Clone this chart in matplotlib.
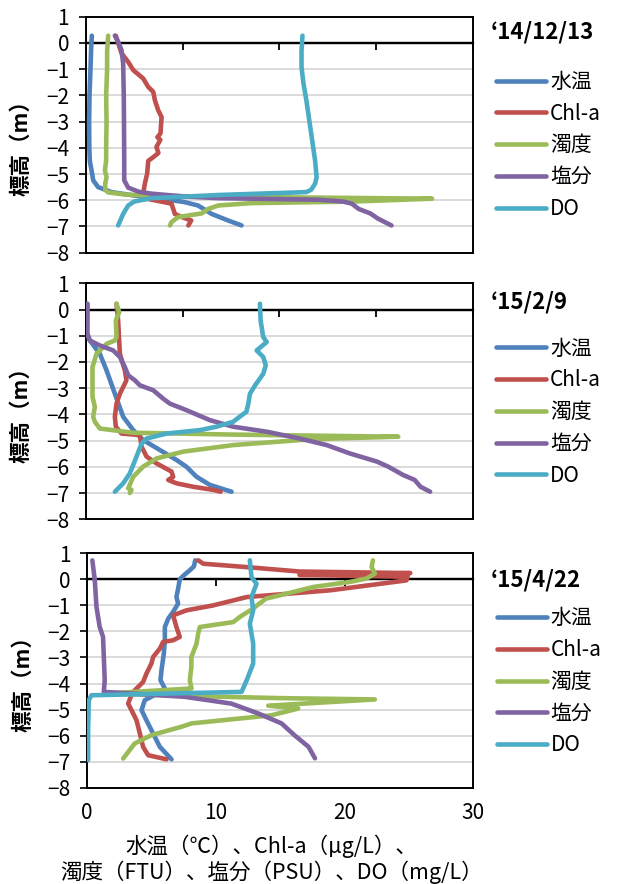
import matplotlib
matplotlib.use('Agg')
import matplotlib.pyplot as plt

plt.rcParams['font.family'] = ['Noto Sans CJK JP', 'DejaVu Sans']

names = ['水温', 'Chl-a', '濁度', '塩分', 'DO']
colors = ['#4F81BD', '#C0504D', '#9BBB59', '#8064A2', '#4BACC6']
dates = ['\u201814/12/13', '\u201815/2/9', '\u201815/4/22']
x_max = [40, 40, 30]
y_ticks = [-8, -7, -6, -5, -4, -3, -2, -1, 0, 1]

# --- '14/12/13 ---
a_temp_x = [0.62, 0.55, 0.48, 0.38, 0.34, 0.36, 0.41, 0.59, 0.76, 1.27, 2.66, 5.0, 8.0, 10.2, 11.6, 13.0, 14.7, 16.1]
a_temp_y = [0.27, -0.2, -1.0, -2.0, -3.0, -4.0, -4.5, -4.86, -5.24, -5.5, -5.69, -5.82, -5.95, -6.07, -6.2, -6.52, -6.77, -6.96]
a_chl_x = [3.1, 3.69, 4.38, 4.9, 5.93, 6.45, 6.97, 7.14, 7.48, 7.83, 7.72, 7.4, 7.7, 7.3, 7.5, 7.0, 6.45, 6.34, 6.1, 5.93, 6.28, 8.86, 9.2, 9.9, 10.9, 10.6]
a_chl_y = [0.27, -0.4, -0.73, -1.04, -1.36, -1.68, -1.87, -2.19, -2.57, -2.83, -3.45, -3.6, -3.7, -3.97, -4.2, -4.35, -4.5, -4.99, -5.37, -5.75, -5.94, -6.13, -6.52, -6.64, -6.77, -6.96]
a_tur_x = [2.31, 2.2, 2.2, 2.1, 2.14, 2.1, 2.1, 1.97, 2.14, 2.0, 2.0, 2.3, 4.0, 6.8, 15.0, 24.0, 35.8, 27.5, 17.1, 13.7, 12.65, 12.0, 9.55, 8.86, 8.7]
a_tur_y = [0.27, -0.3, -1.0, -2.0, -3.0, -4.0, -4.5, -4.86, -5.12, -5.37, -5.6, -5.7, -5.78, -5.83, -5.87, -5.9, -5.94, -6.05, -6.11, -6.2, -6.33, -6.5, -6.64, -6.83, -6.96]
a_sal_x = [3.0, 3.34, 3.69, 3.86, 3.93, 3.97, 3.97, 4.38, 5.5, 6.8, 10.0, 13.7, 24.0, 26.6, 27.5, 28.2, 29.4, 30.2, 31.6]
a_sal_y = [0.27, 0.04, -0.28, -0.79, -2.19, -4.5, -5.24, -5.52, -5.68, -5.75, -5.85, -5.92, -5.98, -6.05, -6.13, -6.33, -6.5, -6.7, -6.96]
a_do_x = [22.4, 22.3, 22.3, 22.5, 22.8, 23.3, 23.7, 23.86, 23.7, 23.3, 22.8, 13.7, 6.8, 5.0, 4.38, 3.86, 3.34]
a_do_y = [0.27, -0.3, -0.92, -1.55, -2.19, -3.46, -4.48, -5.12, -5.37, -5.6, -5.69, -5.8, -5.92, -6.05, -6.2, -6.52, -6.96]

# --- '15/2/9 ---
b_temp_x = [0.14, 0.14, 0.41, 1.45, 2.14, 3.0, 3.86, 4.9, 5.93, 7.66, 9.38, 10.41, 11.45, 12.83, 15.07]
b_temp_y = [0.22, -0.9, -1.18, -1.69, -2.32, -3.21, -4.09, -4.6, -4.98, -5.36, -5.74, -6.0, -6.38, -6.69, -6.95]
b_chl_x = [3.17, 3.34, 3.52, 4.03, 4.2, 3.52, 3.17, 3.0, 3.1, 3.69, 5.59, 5.76, 6.28, 7.31, 8.86, 9.03, 8.52, 9.38, 11.1, 13.17, 13.93]
b_chl_y = [0.22, -0.42, -1.69, -2.32, -2.7, -3.21, -3.59, -4.09, -4.47, -4.73, -4.79, -5.23, -5.61, -5.87, -6.18, -6.38, -6.5, -6.63, -6.76, -6.88, -6.95]
b_tur_x = [3.17, 3.45, 3.1, 3.17, 3.0, 2.14, 1.1, 0.69, 0.69, 0.93, 0.76, 0.93, 1.45, 4.9, 15.24, 25.6, 32.3, 25.6, 22.1, 15.24, 10.07, 7.31, 5.93, 4.9, 4.38, 4.72, 4.55]
b_tur_y = [0.22, -0.1, -0.42, -1.05, -1.18, -1.31, -1.69, -2.19, -3.33, -3.71, -4.09, -4.28, -4.54, -4.7, -4.77, -4.82, -4.85, -4.92, -4.98, -5.17, -5.42, -5.68, -5.99, -6.38, -6.82, -6.88, -7.0]
b_sal_x = [0.17, 0.14, 0.41, 1.45, 2.83, 3.52, 4.03, 4.38, 5.07, 5.59, 6.97, 8.0, 8.69, 10.41, 12.83, 15.24, 18.7, 22.1, 24.9, 27.3, 30.1, 31.3, 32.8, 34.0, 34.6, 35.6]
b_sal_y = [0.22, -0.93, -1.18, -1.37, -1.56, -1.81, -2.19, -2.51, -2.7, -2.89, -3.08, -3.4, -3.59, -3.84, -4.22, -4.47, -4.66, -4.92, -5.17, -5.49, -5.8, -6.0, -6.31, -6.5, -6.76, -6.95]
b_do_x = [18.0, 18.07, 18.34, 18.7, 17.66, 18.34, 18.6, 18.34, 17.5, 16.97, 16.8, 16.6, 15.9, 15.24, 13.5, 11.79, 8.34, 6.28, 5.76, 5.24, 4.55, 3.86, 3.0]
b_do_y = [0.22, -0.42, -1.05, -1.24, -1.56, -1.81, -2.13, -2.45, -2.89, -3.21, -3.59, -3.9, -4.09, -4.28, -4.47, -4.6, -4.73, -4.92, -5.11, -5.61, -6.25, -6.63, -6.95]

# --- '15/4/22 ---
c_temp_x = [8.4, 8.3, 7.98, 7.5, 7.2, 7.07, 6.94, 7.07, 6.68, 6.3, 6.04, 6.04, 5.96, 5.78, 5.7, 6.04, 5.4, 4.48, 4.23, 4.61, 5.13, 5.65, 6.56]
c_temp_y = [0.73, 0.5, 0.35, 0.15, 0.0, -0.36, -0.68, -0.93, -1.25, -1.51, -1.83, -2.34, -2.85, -3.49, -3.87, -4.19, -4.4, -4.64, -5.02, -5.41, -5.92, -6.43, -6.91]
c_chl_x = [8.63, 9.02, 12.4, 16.5, 25.1, 16.5, 24.9, 24.8, 18.9, 12.4, 9.8, 7.72, 6.68, 6.94, 7.2, 6.68, 5.91, 5.65, 5.13, 5.0, 4.61, 4.35, 3.97, 3.7, 3.4, 3.19, 3.45, 3.84, 4.1, 4.35, 4.74, 6.17]
c_chl_y = [0.73, 0.6, 0.47, 0.3, 0.24, 0.17, 0.1, -0.04, -0.42, -0.68, -1.0, -1.19, -1.38, -1.83, -2.21, -2.34, -2.4, -2.66, -2.98, -3.23, -3.62, -3.94, -4.13, -4.26, -4.5, -4.77, -5.02, -5.41, -5.92, -6.43, -6.75, -6.91]
c_tur_x = [22.2, 22.1, 22.35, 21.7, 20.4, 17.6, 15.0, 13.9, 13.2, 12.9, 11.87, 11.35, 8.76, 8.63, 8.5, 8.1, 8.1, 7.98, 8.11, 5.0, 1.5, 8.0, 15.0, 22.35, 14.07, 16.4, 14.3, 8.11, 7.33, 5.0, 3.7, 2.8]
c_tur_y = [0.73, 0.47, 0.22, 0.03, -0.1, -0.29, -0.61, -0.74, -1.0, -1.12, -1.44, -1.64, -1.83, -2.08, -2.47, -2.98, -3.36, -3.87, -4.19, -4.28, -4.38, -4.48, -4.56, -4.61, -4.85, -4.96, -5.22, -5.53, -5.66, -5.98, -6.3, -6.88]
c_sal_x = [0.41, 0.6, 0.73, 0.98, 1.24, 1.37, 1.3, 4.0, 7.59, 11.2, 13.3, 15.1, 16.1, 17.2, 17.7]
c_sal_y = [0.73, -0.04, -1.06, -1.83, -2.21, -3.87, -4.32, -4.4, -4.51, -4.77, -5.15, -5.53, -5.98, -6.43, -6.87]
c_do_x = [12.64, 12.77, 13.16, 12.77, 12.9, 12.64, 12.9, 12.9, 12.4, 12.0, 0.34, 0.13, 0.08, 0.08]
c_do_y = [0.73, 0.09, -0.17, -0.68, -1.19, -1.7, -2.47, -3.23, -3.87, -4.32, -4.45, -4.64, -5.79, -6.94]

panels = [
    [(a_temp_x, a_temp_y), (a_chl_x, a_chl_y), (a_tur_x, a_tur_y), (a_sal_x, a_sal_y), (a_do_x, a_do_y)],
    [(b_temp_x, b_temp_y), (b_chl_x, b_chl_y), (b_tur_x, b_tur_y), (b_sal_x, b_sal_y), (b_do_x, b_do_y)],
    [(c_temp_x, c_temp_y), (c_chl_x, c_chl_y), (c_tur_x, c_tur_y), (c_sal_x, c_sal_y), (c_do_x, c_do_y)],
]

fig = plt.figure(figsize=(6.22, 8.84), dpi=100)
boxes = [[0.138, 0.7141, 0.622, 0.2672],
         [0.138, 0.4126, 0.622, 0.2669],
         [0.140, 0.1089, 0.621, 0.2652]]
title_y = [0.934, 0.922, 0.886]

for i, box in enumerate(boxes):
    ax = fig.add_axes(box)
    for (xs, ys), name, c in zip(panels[i], names, colors):
        ax.plot(xs, ys, color=c, lw=3.3, label=name,
                solid_capstyle='round', solid_joinstyle='round', zorder=3)
    ax.set_xlim(0, x_max[i])
    ax.set_ylim(-8, 1)
    ax.set_yticks(y_ticks)
    ax.tick_params(axis='y', direction='out', length=5, width=1.2, pad=7, labelsize=15)
    ax.grid(axis='y', color='#D4D4D4', lw=1.2, zorder=0)
    ax.axhline(0, color='black', lw=1.6, zorder=2)
    for sp in ax.spines.values():
        sp.set_color('black')
        sp.set_linewidth(1.4)

    # horizontal axis crossing at 0
    sec = ax.secondary_xaxis(0, transform=ax.transData)
    sec.set_xticks(list(range(10, x_max[i] + 1, 10)))
    sec.tick_params(axis='x', direction='out', length=5, width=1.3, labelbottom=False, labeltop=False)
    sec.spines['bottom'].set_color('black')
    sec.spines['bottom'].set_linewidth(1.6)

    if i == 2:
        ax.set_xticks([0, 10, 20, 30])
        ax.tick_params(axis='x', length=0, pad=10, labelsize=15)
        ax.set_xlabel('水温（℃）、Chl-a（μg/L）、\n濁度（FTU）、塩分（PSU）、DO（mg/L）',
                      fontsize=15.5, linespacing=1.12)
        ax.xaxis.set_label_coords(0.478, -0.2)
    else:
        ax.set_xticks([])

    ax.set_ylabel('標高（m）', fontsize=15.5, fontweight='bold')
    ax.yaxis.set_label_coords(-0.14, 0.465)

    ax.text(1.045, title_y[i], dates[i], transform=ax.transAxes,
            fontsize=16, fontweight='bold', ha='left', va='center')
    ax.legend(loc='upper left', bbox_to_anchor=(1.06, 0.77), frameon=False,
              fontsize=15, handlelength=2.4, handletextpad=0.2, labelspacing=0.47,
              borderpad=0, borderaxespad=0)

fig.savefig('out.png', dpi=100)
